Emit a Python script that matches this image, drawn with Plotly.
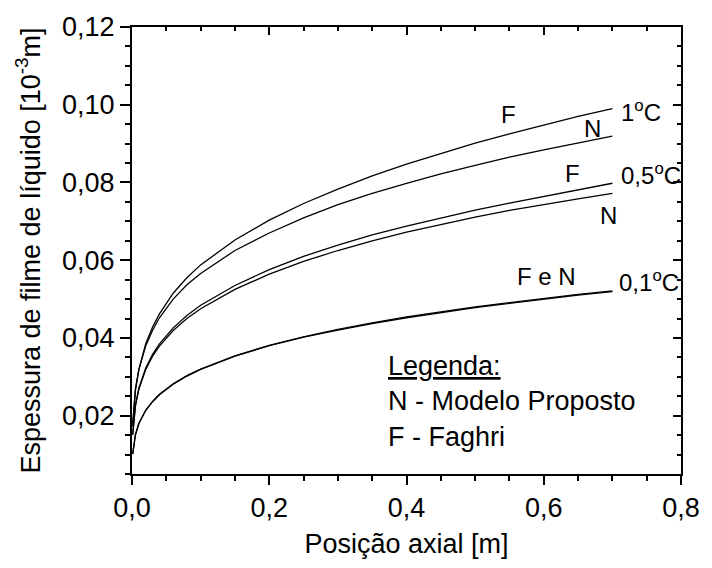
import plotly.graph_objects as go

# Axial position along the tube [m]
posicao = [0.001, 0.003, 0.005, 0.01, 0.02, 0.03, 0.04, 0.06, 0.08, 0.10,
           0.15, 0.20, 0.25, 0.30, 0.35, 0.40, 0.45, 0.50, 0.55, 0.60,
           0.65, 0.70]

# Liquid film thickness [10^-3 m]
n_1C = [0.0180, 0.0236, 0.0269, 0.0319, 0.0380, 0.0420, 0.0452, 0.0500,
        0.0537, 0.0566, 0.0625, 0.0670, 0.0709, 0.0743, 0.0772, 0.0798,
        0.0822, 0.0844, 0.0865, 0.0884, 0.0902, 0.0919]
f_1C = [0.0172, 0.0230, 0.0265, 0.0318, 0.0385, 0.0428, 0.0462, 0.0515,
        0.0555, 0.0588, 0.0652, 0.0703, 0.0746, 0.0783, 0.0817, 0.0847,
        0.0875, 0.0901, 0.0925, 0.0948, 0.0970, 0.0990]
n_05C = [0.0151, 0.0198, 0.0225, 0.0268, 0.0319, 0.0353, 0.0379, 0.0419,
         0.0450, 0.0475, 0.0525, 0.0564, 0.0597, 0.0625, 0.0650, 0.0672,
         0.0692, 0.0711, 0.0728, 0.0744, 0.0758, 0.0772]
f_05C = [0.0151, 0.0199, 0.0227, 0.0271, 0.0323, 0.0358, 0.0385, 0.0426,
         0.0458, 0.0484, 0.0535, 0.0576, 0.0610, 0.0639, 0.0665, 0.0688,
         0.0709, 0.0729, 0.0747, 0.0764, 0.0780, 0.0798]
n_01C = [0.0101, 0.0133, 0.0151, 0.0180, 0.0214, 0.0236, 0.0254, 0.0281,
         0.0302, 0.0319, 0.0353, 0.0380, 0.0402, 0.0420, 0.0437, 0.0452,
         0.0465, 0.0478, 0.0489, 0.0500, 0.0510, 0.0519]
f_01C = [0.0101, 0.0133, 0.0151, 0.0180, 0.0214, 0.0237, 0.0255, 0.0282,
         0.0303, 0.0320, 0.0354, 0.0381, 0.0403, 0.0422, 0.0439, 0.0454,
         0.0467, 0.0480, 0.0491, 0.0502, 0.0512, 0.0521]

series = [f_1C, n_1C, f_05C, n_05C, f_01C, n_01C]

# Curve labels: (text, x, y, anchor)
rotulos = [
    ("F", 0.549, 0.0976, "center"),
    ("N", 0.671, 0.0938, "center"),
    ("1<sup>o</sup>C", 0.709, 0.0985, "left"),
    ("F", 0.642, 0.0823, "center"),
    ("0,5<sup>o</sup>C", 0.709, 0.0823, "left"),
    ("N", 0.695, 0.0716, "center"),
    ("F e N", 0.604, 0.0559, "center"),
    ("0,1<sup>o</sup>C", 0.707, 0.0546, "left"),
]

legenda = [
    ("<u>Legenda:</u>", 0.370, 0.0329),
    ("N - Modelo Proposto", 0.370, 0.0239),
    ("F - Faghri", 0.370, 0.0145),
]

FONT = "Liberation Sans, Arial, sans-serif"

fig = go.Figure()
for ys in series:
    fig.add_trace(go.Scatter(x=posicao, y=ys, mode="lines",
                             line=dict(color="black", width=1.3),
                             showlegend=False, hoverinfo="skip"))

# Empty trace so the mirrored top/right axes are rendered
fig.add_trace(go.Scatter(x=[None], y=[None], xaxis="x2", yaxis="y2",
                         showlegend=False, hoverinfo="skip"))

for txt, x, y, anc in rotulos:
    fig.add_annotation(x=x, y=y, text=txt, showarrow=False,
                       xanchor=anc, yanchor="middle",
                       font=dict(family=FONT, size=24, color="black"))

for txt, x, y in legenda:
    fig.add_annotation(x=x, y=y, text=txt, showarrow=False,
                       xanchor="left", yanchor="middle",
                       font=dict(family=FONT, size=27, color="black"))

xr = [0, 0.8]
yr = [0.005, 0.12]

fig.update_layout(
    width=712, height=568,
    margin=dict(l=132, r=22, t=24, b=94),
    paper_bgcolor="white", plot_bgcolor="white",
    separators=",.",
    font=dict(family=FONT, size=27, color="black"),
    xaxis=dict(range=xr, tick0=0, dtick=0.2, tickformat=".1f",
               showgrid=False, zeroline=False,
               showline=True, linecolor="black", linewidth=2,
               ticks="outside", ticklen=9, tickwidth=2, tickcolor="black",
               minor=dict(dtick=0.05, ticks="outside", ticklen=5,
                          tickwidth=1.5, tickcolor="black"),
               tickfont=dict(size=27),
               title=dict(text="Posição axial [m]", font=dict(size=27),
                          standoff=12)),
    yaxis=dict(range=yr, tick0=0, dtick=0.02, tickformat=".2f",
               showgrid=False, zeroline=False,
               showline=True, linecolor="black", linewidth=2,
               ticks="outside", ticklen=10, tickwidth=2, tickcolor="black",
               minor=dict(dtick=0.005, ticks="outside", ticklen=5,
                          tickwidth=1.5, tickcolor="black"),
               tickfont=dict(size=27),
               title=dict(text="Espessura de filme de líquido [10<sup>-3</sup>m]",
                          font=dict(size=27), standoff=14)),
    xaxis2=dict(range=xr, overlaying="x", side="top", tick0=0, dtick=0.2,
                showticklabels=False, showgrid=False, zeroline=False,
                showline=True, linecolor="black", linewidth=2,
                ticks="inside", ticklen=8, tickwidth=2, tickcolor="black",
                minor=dict(dtick=0.05, ticks="inside", ticklen=4,
                           tickwidth=1.5, tickcolor="black")),
    yaxis2=dict(range=yr, overlaying="y", side="right", tick0=0, dtick=0.02,
                showticklabels=False, showgrid=False, zeroline=False,
                showline=True, linecolor="black", linewidth=2,
                ticks="inside", ticklen=8, tickwidth=2, tickcolor="black",
                minor=dict(dtick=0.005, ticks="inside", ticklen=4,
                           tickwidth=1.5, tickcolor="black")),
)

fig.write_html("out.html")
